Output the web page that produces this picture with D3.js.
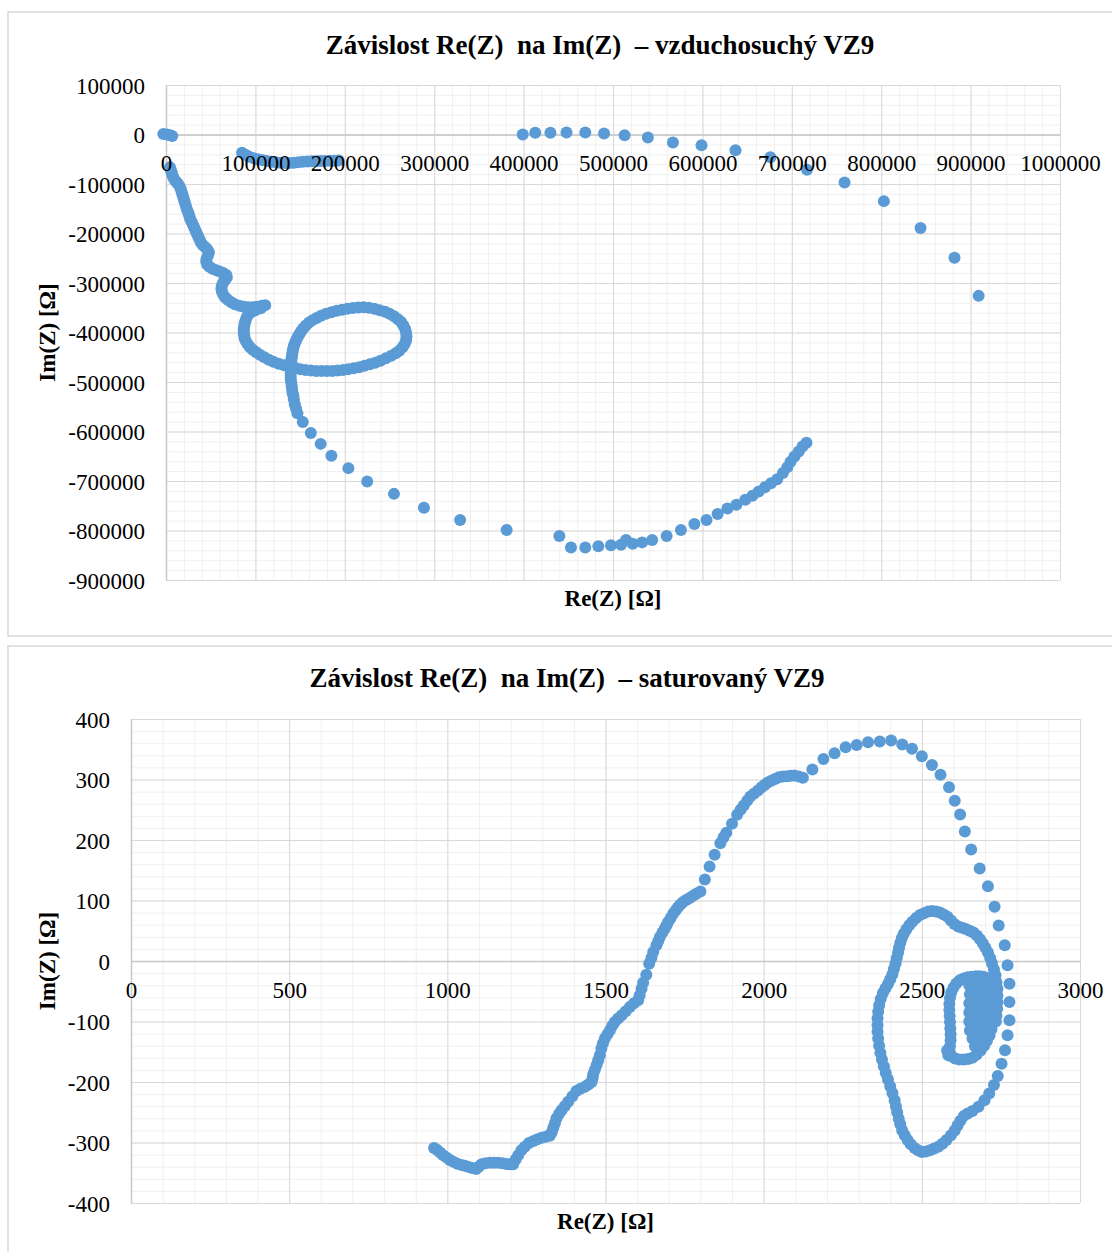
<!DOCTYPE html>
<html><head><meta charset="utf-8">
<script src="https://cdn.jsdelivr.net/npm/d3@7"></script>
<style>
body{margin:0;background:#fff;}
svg text{font-family:"Liberation Serif","Times New Roman",serif;fill:#000;}
</style></head><body>
<svg id="c" width="1112" height="1252"></svg>
<script>
// ---------- DATA ----------
const dryTitle = "Závislost Re(Z)\u00a0 na Im(Z)\u00a0 \u2013 vzduchosuchý VZ9";
const satTitle = "Závislost Re(Z)\u00a0 na Im(Z)\u00a0 \u2013 saturovaný VZ9";
const xAxisTitle = "Re(Z) [Ω]";
const yAxisTitle = "Im(Z) [Ω]";

const dryXTicks = [0,100000,200000,300000,400000,500000,600000,700000,800000,900000,1000000];
const dryYTicks = [100000,0,-100000,-200000,-300000,-400000,-500000,-600000,-700000,-800000,-900000];
const satXTicks = [0,500,1000,1500,2000,2500,3000];
const satYTicks = [400,300,200,100,0,-100,-200,-300,-400];

// [Re(Z), Im(Z)] pairs, vzduchosuchý VZ9
const dryReIm = [
[-3000,1000],[1000,0],[4000,-1000],[7000,-3000],
[4500,-66000],[5500,-72000],[6500,-78000],[7500,-84000],[9000,-90000],[11000,-95000],[13000,-99000],[15000,-104000],[16500,-110000],[17500,-116000],[18500,-122000],[19500,-128000],[20500,-134000],[21500,-140000],[22500,-146000],[23500,-152000],[25000,-158000],[26000,-164000],[27000,-170000],[28500,-176000],[30000,-182000],[31500,-188000],[33000,-194000],[34500,-200000],[36000,-206000],[37500,-212000],[39000,-218000],[41000,-223000],[44000,-228000],[46500,-233000],[48000,-238000],[47000,-244000],[45500,-250000],[45000,-256000],[46000,-262000],[48500,-267000],[52000,-271000],[56000,-274000],[60000,-277000],[64000,-280000],[67500,-284000],[68000,-289000],[66000,-294000],[64000,-299000],[62500,-305000],[62000,-311000],[62500,-317000],[64000,-323000],[66000,-329000],[69000,-334000],[73000,-339000],[77000,-343000],[82000,-346000],[87000,-348000],[92000,-349000],[97000,-349000],[102000,-348000],[107000,-346000],[111000,-345000],
[106000,-351000],[100000,-355000],[95000,-359000],[92000,-364000],[90000,-370000],[89000,-376000],[88000,-382000],[87500,-388000],[87000,-394000],[87000,-400000],[87500,-406000],[88000,-412000],[89500,-418000],[91500,-424000],[94000,-430000],[97000,-435000],[101000,-440000],[105000,-445000],[110000,-450000],[115000,-455000],[120000,-459000],[126000,-463000],[132000,-466000],[138000,-469000],[144000,-471000],[150000,-474000],[156000,-476000],[162000,-477000],[168000,-478000],[174000,-478000],[180000,-478000],[186000,-478000],[192000,-477000],[198000,-476000],[204000,-474000],[210000,-472000],[216000,-470000],[222000,-467000],[228000,-464000],[234000,-461000],[240000,-457000],[246000,-452000],[252000,-447000],[257000,-442000],[261000,-437000],[264500,-430000],[267000,-423000],[268500,-416000],[269000,-408000],[268500,-400000],[267500,-393000],[265500,-386000],[263000,-379000],[259500,-373000],[255000,-367000],[250000,-362000],[245000,-358000],[239000,-355000],[233000,-352000],[227000,-350000],[221000,-349000],[215000,-349500],[209000,-350500],[203000,-352000],[197000,-354000],[191000,-356000],[185000,-359000],[179000,-362000],[173500,-366000],[168500,-370500],[164000,-375000],[160000,-380000],[156500,-386000],[153500,-392000],[151000,-398000],[149000,-404000],[147000,-410000],[145500,-416000],[144000,-422000],[143000,-428000],[142000,-434000],[141500,-440000],[141000,-446000],[140500,-452000],[140000,-458000],[139500,-464000],[139500,-470000],[139500,-476000],[139500,-482000],[139500,-488000],[139500,-494000],[140000,-500000],[140500,-507000],[141000,-514000],[141500,-521000],[142500,-528000],[143000,-535000],[144000,-545000],[145500,-554000],[147000,-563000],
[153000,-581000],[162000,-603000],[173000,-625000],[185000,-649000],[204000,-674000],[225000,-701000],[255000,-726000],[288500,-754000],[329000,-778600],[381000,-799000],[440000,-811000],[453000,-834500],[469000,-834500],[483600,-832000],[497700,-830000],[509000,-829000],[514600,-819000],[522000,-827000],[532600,-824000],[543800,-819000],[560000,-811000],[576000,-799000],[591000,-787000],[604600,-778600],[617000,-766500],[628000,-755700],[638000,-748000],[648000,-738000],[656000,-730000],[663000,-721000],[670000,-712600],[676700,-704600],[683600,-696500],[690000,-684000],[695000,-672000],[698600,-661000],[703000,-650700],[707800,-640600],[712000,-630500],[716400,-622500],
[85000,-37000],[89000,-41000],[93000,-45000],[98000,-48000],[103000,-50000],[108000,-52000],[113000,-53500],[118000,-55000],[123000,-56000],[128000,-57000],[133000,-57500],[138000,-57500],[143000,-57000],[148000,-56000],[153000,-55000],[158000,-54500],[163000,-54000],[168000,-54000],[173000,-53500],[178000,-53500],[183000,-53000],[188000,-53000],[193000,-52500],
[399000,0],[413000,3400],[430000,3400],[448000,4000],[469000,4000],[490000,2000],[513000,-1300],[539000,-6000],[567000,-16000],[599000,-21500],[637000,-32000],[676000,-46000],[717000,-71000],[759000,-97000],[803000,-134600],[844000,-189000],[882000,-249000],[909000,-326000]
];

// [Re(Z), Im(Z)] pairs, saturovaný VZ9
const satReIm = [
[958,-309],[967,-312],[977,-316.5],[987,-321],[998,-325],[1008,-329],[1019,-332],[1032,-335],[1045,-337],[1055,-338.5],[1066,-340],[1078,-342],[1091,-344],[1100,-340],[1108,-336],[1121,-334.5],[1135,-333.5],[1148,-333.5],[1161,-333.5],[1174,-334.5],[1187,-335.7],[1198,-336],[1208,-336],[1216,-328],[1224,-321],[1234,-313],[1245,-307],[1258,-301],[1272,-297.7],[1285,-294.5],[1298,-292],[1311,-290.5],[1324,-289],[1330,-283],[1335,-275.7],[1340,-268],[1345,-260],[1353,-253],[1361,-246.5],[1371,-240],[1382,-232.8],[1395,-224],[1408,-215],[1421,-211],[1435,-208],[1446,-204],[1456,-200],[1459,-194],[1461,-187.7],[1466,-180],[1472,-172],[1477,-164],[1482,-155.7],[1487,-144.7],[1492,-136],[1498,-128],[1506,-121],[1514,-114.5],[1521,-107.5],[1529,-100.7],[1540,-95],[1551,-89.7],[1564,-83],[1577,-76],[1590,-70],[1603,-65],[1608,-56.7],[1614,-46],[1619,-35.8],[1629,-22.6],[1638,-4.4],[1645,5],[1651,14.9],[1661,25.9],[1667,33],[1672,39.6],[1680,47],[1687,53.4],[1693,59],[1698,64.4],[1706,71],[1714,78],[1722,84],[1729,89],[1737,93.5],[1745,97.4],[1755,101],[1766,104],[1777,108],[1787,111],[1800,115],[1814,134.8],[1829,156],[1845,175.6],[1863,194.8],[1873,204],[1882,212],[1900,226.7],[1916,241.6],[1927,250],[1937,257],[1948,265],[1958,272],[1970,277],[1982,281.8],[1993,287],[2003,291],[2013,295],[2024,298],[2036,301],[2048,303.8],[2061,305],[2074,305.4],[2086,306],[2098,306.5],[2111,305],[2124,302.7],[2154,316.5],[2189,334],[2224,343.4],[2259,353.3],[2294,357],[2330,361.7],[2367,362.8],[2403,364.5],[2438,357.9],[2469,351],[2500,338.6],[2532,324],[2559,307.7],[2586,287],[2604,264.7],[2621,242],[2636,214],[2656,184.3],[2683,152.9],[2709,123.7],[2730,89.5],[2743,58.7],
[2762,25.9],[2771,-7.2],[2777,-37.5],[2777,-67.8],[2777,-98],[2771,-122.9],[2763,-147.7],[2752,-170],[2740,-190],[2728,-205],[2713,-219],[2698,-230],[2679,-241],[2660,-248],[2645,-252],[2633,-256],[2622,-264],[2613,-272],[2604,-280],[2592,-288],[2578,-296],[2565,-302],[2552,-307],[2539,-310],[2526,-313],[2513,-315],[2500,-315.7],[2488,-313],[2477,-309],[2465,-303],[2455,-296],[2446,-288],[2438,-280],[2432,-270],[2427,-260.6],[2422,-250],[2418,-240],[2414,-230],[2407,-218],[2400,-207],[2393,-196],[2386,-185],[2380,-174],[2374,-163],[2369,-152],[2365,-140],[2362,-128],[2360,-117],[2360,-106],[2360,-95],[2362,-84],[2365,-73],[2370,-63],[2377,-53],[2385,-45],[2393,-38],[2400,-30],[2407,-22],[2412,-13],[2417,-4],[2421,5],[2425,14],[2428,22],[2432,30],[2437,38],[2443,45],[2451,52],[2460,59],[2470,65],[2482,71],[2494,76],[2507,79],[2520,82],[2533,82.5],[2545,82],[2557,80],[2569,77],[2581,73],[2592,67],[2603,61],[2615,57],[2627,55],[2639,53],[2651,50],[2663,47],[2674,42],[2684,36],[2693,29],[2701,22],[2709,14],[2716,5],[2722,-4],[2728,-14],[2733,-24],[2736,-35],[2739,-46],[2739,-57],[2739,-68],[2738,-79],[2736,-90],[2734,-100],
[2671,-25],[2658,-26],[2645,-27],[2632,-29],[2620,-32],[2609,-37],[2600,-44],[2593,-52],[2589,-61],[2587,-71],[2587,-81],[2588,-91],[2589,-101],[2590,-111],[2591,-121],[2591,-131],[2589,-141],[2588,-150],[2580,-148],[2584,-156],[2594,-157],[2605,-161],[2618,-163],[2632,-163],[2646,-162],[2660,-160],[2673,-155],[2686,-148],[2697,-140],[2706,-132],[2714,-123],[2720,-113],[2725,-103],[2729,-92],[2731,-81],[2732,-70],[2731,-59],[2728,-49],[2723,-40],[2716,-33],[2706,-28],[2695,-26],[2683,-25],
[2650,-40],[2665,-38],[2680,-37],[2695,-38],[2710,-42],[2652,-55],[2668,-52],[2684,-51],[2700,-52],[2716,-55],[2650,-70],[2666,-68],[2682,-67],[2698,-68],[2714,-70],[2650,-85],[2666,-84],[2682,-83],[2698,-84],[2714,-86],[2650,-100],[2666,-99],[2682,-98],[2698,-100],[2712,-102],[2652,-115],[2668,-114],[2684,-113],[2700,-115],[2660,-128],[2676,-128],[2692,-127],[2668,-141],[2684,-140]
];

// ---------- DRAW ----------
const svg = d3.select("#c");
svg.append("rect").attr("width",1112).attr("height",1252).attr("fill","#fff");
const plainNum = d => String(d);

function drawChart(o){
  const g = svg.append("g");
  g.append("rect").attr("x",o.frame[0]).attr("y",o.frame[1]).attr("width",o.frame[2]).attr("height",o.frame[3])
    .attr("fill","#fff").attr("stroke","#d9d9d9").attr("stroke-width",1.5);
  const x = d3.scaleLinear().domain(o.xDomain).range([o.left,o.right]);
  const y = d3.scaleLinear().domain(o.yDomain).range([o.bottom,o.top]);
  const w = o.right-o.left, h = o.bottom-o.top;
  const xMinor = d3.range(o.xDomain[0], o.xDomain[1]+1e-9, o.xMinorStep);
  const yMinor = d3.range(o.yDomain[0], o.yDomain[1]+1e-9, o.yMinorStep);
  const styleGrid = (col)=> s=>{ s.select(".domain").remove(); s.selectAll("line").attr("stroke",col).attr("stroke-width",1); };
  g.append("g").attr("transform",`translate(0,${o.bottom})`)
    .call(d3.axisBottom(x).tickValues(xMinor).tickSize(-h).tickFormat("")).call(styleGrid("#f0f0f0"));
  g.append("g").attr("transform",`translate(${o.left},0)`)
    .call(d3.axisLeft(y).tickValues(yMinor).tickSize(-w).tickFormat("")).call(styleGrid("#f0f0f0"));
  g.append("g").attr("transform",`translate(0,${o.bottom})`)
    .call(d3.axisBottom(x).tickValues(o.xTicks).tickSize(-h).tickFormat("")).call(styleGrid("#d9d9d9"));
  g.append("g").attr("transform",`translate(${o.left},0)`)
    .call(d3.axisLeft(y).tickValues(o.yTicks).tickSize(-w).tickFormat("")).call(styleGrid("#d9d9d9"));
  // axis lines
  g.append("g").attr("transform",`translate(0,${y(0)})`)
    .call(d3.axisBottom(x).tickValues([]).tickSizeOuter(0))
    .call(s=>s.select(".domain").attr("stroke","#c8c8c8").attr("stroke-width",1.5));
  g.append("g").attr("transform",`translate(${x(0)},0)`)
    .call(d3.axisLeft(y).tickValues([]).tickSizeOuter(0))
    .call(s=>s.select(".domain").attr("stroke","#c8c8c8").attr("stroke-width",1.5));
  // points
  g.append("g").selectAll("circle").data(o.data).join("circle")
    .attr("cx",d=>x(d[0])).attr("cy",d=>y(d[1])).attr("r",6).attr("fill","#5b9bd5");
  // labels
  const xl = g.append("g").attr("transform",`translate(0,${y(0)})`)
    .call(d3.axisBottom(x).tickValues(o.xTicks).tickSize(0).tickFormat(plainNum));
  xl.select(".domain").remove();
  xl.selectAll("text").attr("y",o.xLabelDy).attr("dy",null).attr("font-size",23)
    .style("font-family","'Liberation Serif','Times New Roman',serif");
  const yl = g.append("g").attr("transform",`translate(${o.left},0)`)
    .call(d3.axisLeft(y).tickValues(o.yTicks).tickSize(0).tickFormat(plainNum));
  yl.select(".domain").remove();
  yl.selectAll("text").attr("x",o.yLabelRight-o.left).attr("dy","0.35em").attr("font-size",23)
    .style("font-family","'Liberation Serif','Times New Roman',serif");
  // titles
  g.append("text").attr("x",o.titleX).attr("y",o.titleY).attr("text-anchor","middle")
    .attr("font-size",27).attr("font-weight","bold").text(o.title);
  g.append("text").attr("x",(o.left+o.right)/2).attr("y",o.xTitleY).attr("text-anchor","middle")
    .attr("font-size",23).attr("font-weight","bold").text(xAxisTitle);
  g.append("text").attr("transform",`translate(${o.yTitleX},${(o.top+o.bottom)/2}) rotate(-90)`)
    .attr("text-anchor","middle").attr("font-size",23).attr("font-weight","bold").text(yAxisTitle);
}

drawChart({
  frame:[8,12,1130,624], left:166, right:1060, top:85, bottom:580,
  xDomain:[0,1000000], yDomain:[-900000,100000], xMinorStep:20000, yMinorStep:20000,
  xTicks:dryXTicks, yTicks:dryYTicks, data:dryReIm,
  xLabelDy:36, yLabelRight:145, title:dryTitle, titleX:600, titleY:54,
  xTitleY:606, yTitleX:55
});
drawChart({
  frame:[8,646,1130,640], left:131, right:1080, top:719, bottom:1203,
  xDomain:[0,3000], yDomain:[-400,400], xMinorStep:100, yMinorStep:20,
  xTicks:satXTicks, yTicks:satYTicks, data:satReIm,
  xLabelDy:37, yLabelRight:110, title:satTitle, titleX:567, titleY:687,
  xTitleY:1229, yTitleX:55
});
</script>
</body></html>
